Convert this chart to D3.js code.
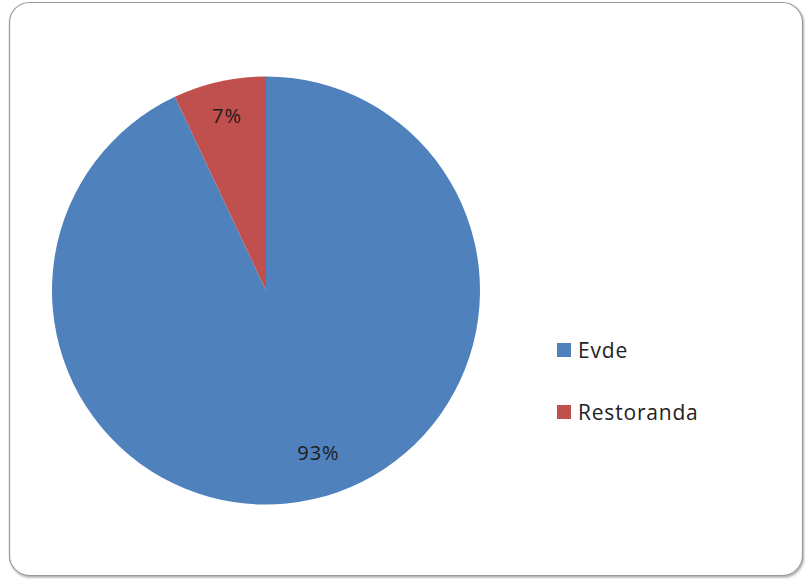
<!DOCTYPE html>
<html>
<head>
<meta charset="utf-8">
<script src="https://cdn.jsdelivr.net/npm/d3@7"></script>
<style>
  html, body { margin: 0; padding: 0; background: #fff; }
  svg { display: block; }
</style>
</head>
<body>
<svg id="chart" width="805" height="579"></svg>
<script>
const categories = ["Evde", "Restoranda"];
const values = [93, 7];
const labels = ["93%", "7%"];
const colors = ["#4F81BD", "#C0504D"];

const svg = d3.select("#chart");
const font = "'Open Sans', 'Liberation Sans', sans-serif";

const defs = svg.append("defs");
const f = defs.append("filter").attr("id", "sh").attr("x", "-5%").attr("y", "-5%").attr("width", "110%").attr("height", "110%");
f.append("feDropShadow").attr("dx", 1).attr("dy", 1.5).attr("stdDeviation", 1).attr("flood-color", "#000").attr("flood-opacity", 0.35);

svg.append("rect")
  .attr("x", 9.5).attr("y", 2.5).attr("width", 793).attr("height", 573)
  .attr("rx", 20).attr("ry", 20)
  .attr("fill", "#fff").attr("stroke", "#9a9a9a").attr("stroke-width", 1.2)
  .attr("filter", "url(#sh)");

const cx = 266, cy = 290.5, r = 214;
const g = svg.append("g").attr("transform", `translate(${cx},${cy})`);

const pie = d3.pie().sort(null).value(d => d)(values);
const arc = d3.arc().innerRadius(0).outerRadius(r);

g.selectAll("path.slice").data(pie).join("path")
  .attr("class", "slice")
  .attr("d", arc)
  .attr("fill", (d, i) => colors[i])
  .attr("stroke", "none");

function labelPos(d) {
  const span = d.endAngle - d.startAngle;
  const a = span > Math.PI ? d.startAngle + span * 0.484 : (d.startAngle + d.endAngle) / 2;
  const rr = span > Math.PI ? r * 0.795 : r * 0.836;
  return [rr * Math.sin(a), -rr * Math.cos(a)];
}

g.selectAll("text.lbl").data(pie).join("text")
  .attr("class", "lbl")
  .attr("transform", d => `translate(${labelPos(d)})`)
  .attr("text-anchor", "middle")
  .attr("dominant-baseline", "central")
  .attr("font-family", font)
  .attr("font-size", 20)
  .attr("letter-spacing", 1)
  .attr("fill", "#1c1c1c")
  .text((d, i) => labels[i]);

const legend = svg.append("g").attr("transform", "translate(557,343)");
const item = legend.selectAll("g.item").data(categories).join("g")
  .attr("class", "item")
  .attr("transform", (d, i) => `translate(0,${i * 62})`);
item.append("rect")
  .attr("width", 14).attr("height", 14)
  .attr("fill", (d, i) => colors[i]);
item.append("text")
  .attr("x", 21).attr("y", 7)
  .attr("dominant-baseline", "central")
  .attr("font-family", font)
  .attr("font-size", 21)
  .attr("letter-spacing", 0.8)
  .attr("fill", "#222")
  .text(d => d);
</script>
</body>
</html>
